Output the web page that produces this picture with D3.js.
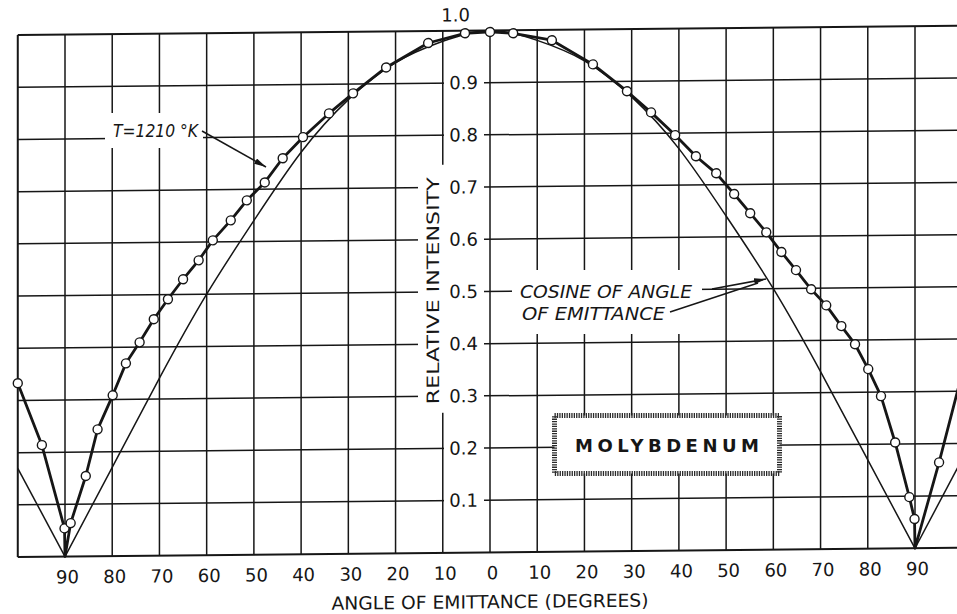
<!DOCTYPE html>
<html>
<head>
<meta charset="utf-8">
<script src="https://cdn.jsdelivr.net/npm/d3@7"></script>
<style>
  html, body { margin: 0; padding: 0; background: #fff; }
  svg { display: block; }
</style>
</head>
<body>
<svg id="chart" width="957" height="614"></svg>
<script>
// angles of emittance in degrees, left of the normal is negative
const gridAngles = [-100, -90, -80, -70, -60, -50, -40, -30, -20, -10, 0, 10, 20, 30, 40, 50, 60, 70, 80, 90, 100];
const gridValues = [0, 0.1, 0.2, 0.3, 0.4, 0.5, 0.6, 0.7, 0.8, 0.9, 1.0];

const xTickAngles = [-90, -80, -70, -60, -50, -40, -30, -20, -10, 0, 10, 20, 30, 40, 50, 60, 70, 80, 90];
const xTickLabels = ["90", "80", "70", "60", "50", "40", "30", "20", "10", "0", "10", "20", "30", "40", "50", "60", "70", "80", "90"];
const yTickValues = [0.1, 0.2, 0.3, 0.4, 0.5, 0.6, 0.7, 0.8, 0.9, 1.0];
const yTickLabels = ["0.1", "0.2", "0.3", "0.4", "0.5", "0.6", "0.7", "0.8", "0.9", "1.0"];

// cosine of angle of emittance (thin line)
const cosAngles = [-100, -90, -80, -70, -60, -50, -40, -30, -20, -10, 0, 10, 20, 30, 40, 50, 60, 70, 80, 90, 100];
const cosValues = [0.17, 0, 0.17, 0.34, 0.50, 0.64, 0.77, 0.87, 0.94, 0.98, 1.00, 0.98, 0.94, 0.87, 0.77, 0.64, 0.50, 0.34, 0.17, 0, 0.17];

// molybdenum, T = 1210 K (circles)
const moAngles = [-100, -94.9, -90.1, -88.8, -85.6, -83.1, -79.9, -77.1, -74.2, -71.2, -68.2, -65.0, -61.7, -58.7, -54.9, -51.5, -47.7, -43.9, -39.6, -34.1, -29.0, -22.0, -13.1, -5.3, 0, 4.9, 13.1, 21.8, 29.0, 34.1, 39.2, 43.6, 47.9, 51.7, 55.1, 58.5, 61.7, 64.8, 68.0, 71.2, 74.4, 77.3, 80.1, 82.8, 85.8, 88.8, 89.9, 95.1, 100];
const moValues = [0.333, 0.214, 0.054, 0.064, 0.154, 0.243, 0.308, 0.369, 0.409, 0.453, 0.491, 0.529, 0.565, 0.603, 0.641, 0.679, 0.713, 0.759, 0.799, 0.844, 0.882, 0.931, 0.977, 0.995, 0.997, 0.994, 0.980, 0.933, 0.881, 0.840, 0.796, 0.755, 0.722, 0.682, 0.645, 0.608, 0.570, 0.535, 0.498, 0.467, 0.427, 0.392, 0.344, 0.292, 0.203, 0.098, 0.056, 0.164, 0.335];
// the measured curve runs down to zero at the grazing angles
const moZeroAngles = [-90, 90];

const svg = d3.select("#chart");
const ink = "#161616";
const skew = "skewY(-0.56)"; // the scanned sheet is slightly tilted

const x = d3.scaleLinear().domain([-90, 90]).range([65, 915]);
const y = d3.scaleLinear().domain([0, 1]).range([557.2, 35.2]);

// grid
const grid = svg.append("g").attr("transform", skew).attr("stroke", ink);
grid.selectAll("line.v").data(gridAngles).join("line")
  .attr("class", "v")
  .attr("x1", d => x(d)).attr("x2", d => x(d))
  .attr("y1", y(0)).attr("y2", y(1))
  .attr("stroke-width", d => d === -100 ? 2 : 1.5);
grid.selectAll("line.h").data(gridValues).join("line")
  .attr("class", "h")
  .attr("x1", x(-100)).attr("x2", x(100))
  .attr("y1", d => y(d)).attr("y2", d => y(d))
  .attr("stroke-width", d => (d === 0 || d === 1) ? 2 : 1.5);

// white gaps in the grid behind the labels
const masks = svg.append("g").attr("transform", skew).attr("fill", "#fff");
masks.selectAll("rect").data(yTickValues.filter(v => v < 1)).join("rect")
  .attr("x", 444).attr("width", 40)
  .attr("y", d => y(d) - 8).attr("height", 16);
masks.append("rect").attr("x", 418).attr("width", 27).attr("y", 169).attr("height", 248);

const noteMasks = svg.append("g").attr("fill", "#fff");
noteMasks.append("rect").attr("x", 105).attr("y", 113).attr("width", 98).attr("height", 35);
noteMasks.append("rect").attr("x", 512).attr("y", 270).attr("width", 190).attr("height", 64);

// curves
const plot = svg.append("g").attr("transform", skew);

const cosPts = cosAngles.map((a, i) => [a, cosValues[i]]);
const cosSegments = [
  cosPts.filter(p => p[0] <= -90),
  cosPts.filter(p => p[0] >= -90 && p[0] <= 90),
  cosPts.filter(p => p[0] >= 90)
];
const cosLine = d3.line().x(d => x(d[0])).y(d => y(d[1])).curve(d3.curveNatural);
plot.selectAll("path.cos").data(cosSegments).join("path")
  .attr("class", "cos")
  .attr("fill", "none").attr("stroke", ink).attr("stroke-width", 1.5)
  .attr("d", cosLine);

const moPts = moAngles.map((a, i) => [a, moValues[i]]);
const moLinePts = moPts.concat(moZeroAngles.map(a => [a, 0]))
  .sort((p, q) => p[0] - q[0]);
const moLine = d3.line().x(d => x(d[0])).y(d => y(d[1]));
plot.append("path")
  .datum(moLinePts)
  .attr("fill", "none").attr("stroke", ink).attr("stroke-width", 2.8)
  .attr("stroke-linejoin", "round")
  .attr("d", moLine);

plot.selectAll("circle").data(moPts).join("circle")
  .attr("cx", d => x(d[0])).attr("cy", d => y(d[1]))
  .attr("r", 4.5)
  .attr("fill", "#fff").attr("stroke", ink).attr("stroke-width", 1.4);

// axes
const labels = svg.append("g").attr("transform", skew);

const xAxis = labels.append("g")
  .attr("transform", `translate(2,${y(0) + 14})`)
  .call(d3.axisBottom(x).tickValues(xTickAngles)
    .tickFormat((d, i) => xTickLabels[i]).tickSize(0).tickPadding(0));
xAxis.select(".domain").remove();
xAxis.selectAll("text")
  .attr("font-family", "DejaVu Sans, sans-serif").attr("font-size", 18).attr("fill", ink);

const yAxis = labels.append("g")
  .attr("transform", "translate(478,0)")
  .call(d3.axisLeft(y).tickValues(yTickValues)
    .tickFormat((d, i) => yTickLabels[i]).tickSize(0).tickPadding(0));
yAxis.select(".domain").remove();
yAxis.selectAll("text")
  .attr("font-family", "DejaVu Sans, sans-serif").attr("font-size", 18).attr("fill", ink);
yAxis.selectAll(".tick").filter(d => d === 1).select("text")
  .attr("x", -8).attr("dy", "-0.55em");

labels.append("text")
  .attr("x", 490).attr("y", 613)
  .attr("text-anchor", "middle")
  .attr("font-family", "DejaVu Sans, sans-serif").attr("font-size", 18).attr("fill", ink)
  .attr("textLength", 317).attr("lengthAdjust", "spacingAndGlyphs")
  .text("ANGLE OF EMITTANCE (DEGREES)");

labels.append("text")
  .attr("transform", "translate(439,295) rotate(-90)")
  .attr("text-anchor", "middle")
  .attr("font-family", "DejaVu Sans, sans-serif").attr("font-size", 17).attr("fill", ink)
  .attr("textLength", 227).attr("lengthAdjust", "spacingAndGlyphs")
  .text("RELATIVE INTENSITY");

// notes
const defs = svg.append("defs");
defs.append("marker")
  .attr("id", "head")
  .attr("viewBox", "0 0 12 6")
  .attr("refX", 12).attr("refY", 3)
  .attr("markerWidth", 12).attr("markerHeight", 6)
  .attr("markerUnits", "userSpaceOnUse")
  .attr("orient", "auto")
  .append("path").attr("d", "M0,0L12,3L0,6z").attr("fill", ink);

const notes = svg.append("g")
  .attr("font-family", "DejaVu Sans, sans-serif").attr("fill", ink);

notes.append("text")
  .attr("x", 113).attr("y", 137)
  .attr("font-size", 17).attr("font-style", "italic")
  .attr("textLength", 85).attr("lengthAdjust", "spacingAndGlyphs")
  .text("T=1210 °K");
notes.append("line")
  .attr("x1", 202).attr("y1", 131).attr("x2", 266).attr("y2", 167)
  .attr("stroke", ink).attr("stroke-width", 1.5).attr("marker-end", "url(#head)");

notes.append("text")
  .attr("x", 520).attr("y", 298)
  .attr("font-size", 17).attr("font-style", "italic")
  .attr("textLength", 172).attr("lengthAdjust", "spacingAndGlyphs")
  .text("COSINE OF ANGLE");
notes.append("text")
  .attr("x", 522).attr("y", 320)
  .attr("font-size", 17).attr("font-style", "italic")
  .attr("textLength", 143).attr("lengthAdjust", "spacingAndGlyphs")
  .text("OF EMITTANCE");
notes.append("line")
  .attr("x1", 712).attr("y1", 289).attr("x2", 766).attr("y2", 279)
  .attr("stroke", ink).attr("stroke-width", 1.5).attr("marker-end", "url(#head)");
notes.append("line")
  .attr("x1", 670).attr("y1", 312).attr("x2", 758).attr("y2", 283)
  .attr("stroke", ink).attr("stroke-width", 1.5);

// label box
notes.append("rect")
  .attr("x", 554.5).attr("y", 415.5).attr("width", 225).attr("height", 58)
  .attr("fill", "#fff").attr("stroke", "#2a2a2a").attr("stroke-width", 5)
  .attr("stroke-dasharray", "1.3 1.1");
notes.append("text")
  .attr("x", 667).attr("y", 452)
  .attr("text-anchor", "middle")
  .attr("font-size", 18).attr("font-weight", "bold")
  .attr("textLength", 184).attr("lengthAdjust", "spacing")
  .text("MOLYBDENUM");
</script>
</body>
</html>
